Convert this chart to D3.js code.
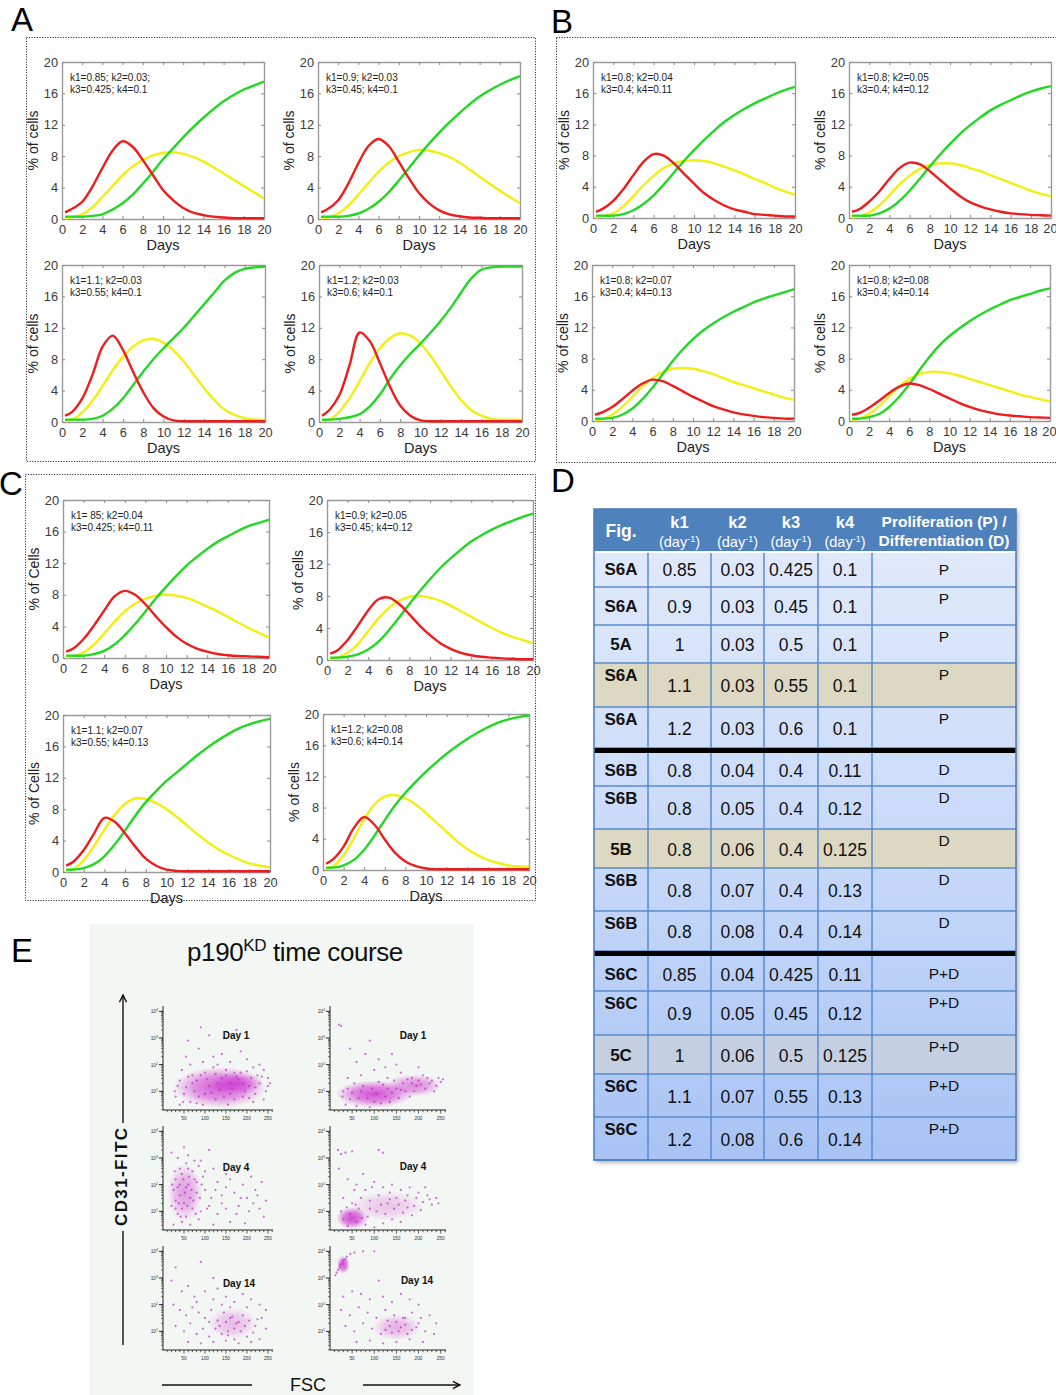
<!DOCTYPE html>
<html>
<head>
<meta charset="utf-8">
<script src="https://cdn.jsdelivr.net/npm/d3@7"></script>
<style>
  body { margin: 0; background: #fff; }
  svg { display: block; }
  text { font-family: Arial, "Liberation Sans", sans-serif; }
</style>
</head>
<body>
<svg id="fig" width="1056" height="1395"></svg>
<script>
// ---- model curves (% of cells) ----
const days = [0.3, 1, 2, 3, 4, 5, 6, 7, 8, 9, 10, 11, 12, 13, 14, 15, 16, 17, 18, 19, 20]

const redA1 = [0.85,1.3,2.2,4.1,6.5,8.7,9.9,9.2,7.5,5.6,3.7,2.4,1.4,0.8,0.5,0.3,0.2,0.1,0.1,0.1,0.1]
const yelA1 = [0.1,0.2,0.6,1.5,2.8,4.2,5.6,6.7,7.5,8.1,8.4,8.5,8.3,7.9,7.3,6.6,5.8,5.0,4.2,3.4,2.6]
const grnA1 = [0.3,0.3,0.3,0.4,0.6,1.2,2.0,3.1,4.5,6.0,7.6,9.0,10.4,11.7,12.9,14.0,15.0,15.8,16.5,17.0,17.5]

const redA2 = [0.85,1.3,2.4,4.5,7.1,9.3,10.2,9.3,7.3,5.2,3.3,2.0,1.1,0.6,0.35,0.2,0.15,0.1,0.1,0.1,0.1]
const yelA2 = [0.1,0.2,0.7,1.7,3.1,4.6,6.0,7.2,8.0,8.5,8.8,8.7,8.4,7.9,7.2,6.3,5.4,4.5,3.6,2.8,2.0]
const grnA2 = [0.3,0.3,0.3,0.4,0.7,1.3,2.2,3.4,4.9,6.5,8.1,9.6,11.0,12.3,13.5,14.6,15.6,16.4,17.1,17.7,18.2]

const redA3 = [0.8,1.3,3.0,6.0,9.6,11.0,9.2,6.4,3.8,1.8,0.7,0.2,0.1,0.1,0.1,0.1,0.1,0.1,0.1,0.1,0.1]
const yelA3 = [0.1,0.3,1.2,2.7,4.6,6.6,8.3,9.6,10.4,10.6,10.1,9.1,7.7,6.0,4.3,2.8,1.6,0.9,0.5,0.3,0.3]
const grnA3 = [0.3,0.3,0.3,0.4,0.8,1.7,3.0,4.7,6.4,8.0,9.4,10.7,12.0,13.5,15.0,16.5,18.0,19.0,19.5,19.7,19.8]

const redA4 = [0.8,1.5,3.4,7.2,11.4,10.3,7.5,4.5,2.1,0.8,0.2,0.1,0.1,0.1,0.1,0.1,0.1,0.1,0.1,0.1,0.1]
const yelA4 = [0.1,0.3,1.3,3.0,5.2,7.5,9.4,10.7,11.3,11.0,10.0,8.4,6.5,4.5,2.8,1.5,0.8,0.4,0.3,0.3,0.3]
const grnA4 = [0.3,0.3,0.4,0.6,1.0,2.0,3.5,5.5,7.2,8.7,10.0,11.4,12.9,14.6,16.5,18.3,19.4,19.7,19.8,19.8,19.8]

const redB1 = [0.8,1.2,2.2,3.7,5.5,7.2,8.2,8.0,7.0,5.7,4.4,3.2,2.3,1.6,1.1,0.8,0.5,0.4,0.3,0.2,0.2]
const yelB1 = [0.1,0.2,0.6,1.5,2.8,4.2,5.4,6.4,7.0,7.3,7.4,7.3,7.0,6.6,6.1,5.6,5.0,4.5,3.9,3.4,3.0]
const grnB1 = [0.3,0.3,0.3,0.5,1.0,1.8,2.9,4.3,5.8,7.3,8.7,10.0,11.2,12.3,13.2,14.0,14.7,15.3,15.9,16.4,16.8]

const redB2 = [0.8,1.1,2.1,3.4,5.0,6.4,7.1,6.9,6.0,4.9,3.8,2.8,2.0,1.5,1.1,0.8,0.6,0.5,0.4,0.35,0.3]
const yelB2 = [0.1,0.2,0.7,1.6,2.9,4.3,5.4,6.3,6.8,7.0,7.0,6.8,6.4,6.0,5.5,5.0,4.5,4.0,3.5,3.1,2.8]
const grnB2 = [0.3,0.3,0.3,0.6,1.2,2.2,3.5,5.0,6.6,8.1,9.5,10.8,11.9,12.9,13.8,14.5,15.1,15.7,16.2,16.6,16.9]

const redB3 = [0.8,1.1,1.8,2.8,3.9,4.8,5.3,5.1,4.5,3.8,3.1,2.5,1.9,1.5,1.1,0.85,0.65,0.5,0.4,0.3,0.3]
const yelB3 = [0.1,0.2,0.8,1.8,3.1,4.4,5.5,6.3,6.7,6.8,6.7,6.4,6.0,5.5,5.0,4.6,4.2,3.8,3.4,3.0,2.7]
const grnB3 = [0.3,0.3,0.4,0.8,1.6,2.8,4.3,6.0,7.7,9.2,10.5,11.6,12.5,13.3,14.0,14.6,15.2,15.7,16.1,16.5,16.9]

const redB4 = [0.8,1.0,1.7,2.6,3.6,4.4,4.8,4.6,4.1,3.5,2.9,2.3,1.8,1.4,1.1,0.85,0.7,0.6,0.5,0.45,0.4]
const yelB4 = [0.1,0.3,0.9,1.9,3.2,4.4,5.4,6.0,6.3,6.3,6.1,5.8,5.4,5.0,4.6,4.2,3.8,3.4,3.1,2.8,2.5]
const grnB4 = [0.3,0.3,0.5,0.9,1.8,3.1,4.7,6.5,8.2,9.7,10.9,11.9,12.8,13.6,14.3,14.9,15.5,15.9,16.3,16.7,17.0]

const redC1 = [0.8,1.2,2.4,4.1,6.0,7.8,8.5,8.0,6.8,5.3,3.9,2.7,1.8,1.2,0.8,0.5,0.35,0.25,0.2,0.15,0.1]
const yelC1 = [0.1,0.2,0.7,1.7,3.1,4.6,5.9,6.9,7.5,7.9,8.0,7.9,7.6,7.1,6.5,5.9,5.2,4.5,3.8,3.2,2.6]
const grnC1 = [0.3,0.3,0.3,0.5,0.9,1.7,2.9,4.3,5.9,7.5,9.0,10.4,11.7,12.8,13.8,14.7,15.4,16.1,16.7,17.1,17.5]

const redC2 = [0.8,1.2,2.5,4.3,6.2,7.6,7.8,7.0,5.7,4.3,3.1,2.1,1.4,0.9,0.6,0.4,0.3,0.2,0.15,0.1,0.1]
const yelC2 = [0.1,0.3,0.9,2.0,3.6,5.2,6.5,7.4,7.9,8.0,7.8,7.4,6.8,6.1,5.4,4.7,4.0,3.4,2.9,2.5,2.1]
const grnC2 = [0.3,0.3,0.4,0.7,1.3,2.3,3.7,5.3,7.0,8.6,10.1,11.5,12.7,13.8,14.8,15.6,16.3,16.9,17.4,17.9,18.3]

const redC3 = [0.8,1.3,2.8,4.9,6.9,6.4,4.9,3.2,1.7,0.8,0.3,0.15,0.1,0.1,0.1,0.1,0.1,0.1,0.1,0.1,0.1]
const yelC3 = [0.1,0.4,1.5,3.3,5.4,7.3,8.7,9.4,9.3,8.8,8.0,7.0,5.9,4.8,3.8,2.9,2.2,1.6,1.1,0.8,0.6]
const grnC3 = [0.3,0.3,0.5,1.0,2.0,3.5,5.3,7.2,8.9,10.3,11.6,12.7,13.8,14.9,15.9,16.8,17.6,18.3,18.8,19.2,19.5]

const redC4 = [0.8,1.4,3.0,5.4,6.8,5.8,3.9,2.2,1.1,0.5,0.2,0.1,0.1,0.1,0.1,0.1,0.1,0.1,0.1,0.1,0.1]
const yelC4 = [0.1,0.5,1.9,4.1,6.5,8.4,9.4,9.6,9.2,8.4,7.3,6.1,4.9,3.7,2.7,1.9,1.3,0.9,0.6,0.45,0.4]
const grnC4 = [0.3,0.3,0.6,1.3,2.6,4.4,6.4,8.3,9.9,11.3,12.6,13.8,14.9,15.9,16.8,17.6,18.3,18.9,19.3,19.6,19.8]

const xTicks = [0, 2, 4, 6, 8, 10, 12, 14, 16, 18, 20]
const yTicks = [0, 4, 8, 12, 16, 20]

const plotNotes = {
  A1: ['k1=0.85; k2=0.03;', 'k3=0.425; k4=0.1'],
  A2: ['k1=0.9; k2=0.03', 'k3=0.45; k4=0.1'],
  A3: ['k1=1.1; k2=0.03', 'k3=0.55; k4=0.1'],
  A4: ['k1=1.2; k2=0.03', 'k3=0.6; k4=0.1'],
  B1: ['k1=0.8; k2=0.04', 'k3=0.4; k4=0.11'],
  B2: ['k1=0.8; k2=0.05', 'k3=0.4; k4=0.12'],
  B3: ['k1=0.8; k2=0.07', 'k3=0.4; k4=0.13'],
  B4: ['k1=0.8; k2=0.08', 'k3=0.4; k4=0.14'],
  C1: ['k1= 85; k2=0.04', 'k3=0.425; k4=0.11'],
  C2: ['k1=0.9; k2=0.05', 'k3=0.45; k4=0.12'],
  C3: ['k1=1.1; k2=0.07', 'k3=0.55; k4=0.13'],
  C4: ['k1=1.2; k2=0.08', 'k3=0.6; k4=0.14']
}

// ---- table D ----
const figCol = ['S6A','S6A','5A','S6A','S6A','S6B','S6B','5B','S6B','S6B','S6C','S6C','5C','S6C','S6C']
const k1Col = ['0.85','0.9','1','1.1','1.2','0.8','0.8','0.8','0.8','0.8','0.85','0.9','1','1.1','1.2']
const k2Col = ['0.03','0.03','0.03','0.03','0.03','0.04','0.05','0.06','0.07','0.08','0.04','0.05','0.06','0.07','0.08']
const k3Col = ['0.425','0.45','0.5','0.55','0.6','0.4','0.4','0.4','0.4','0.4','0.425','0.45','0.5','0.55','0.6']
const k4Col = ['0.1','0.1','0.1','0.1','0.1','0.11','0.12','0.125','0.13','0.14','0.11','0.12','0.125','0.13','0.14']
const pdCol = ['P','P','P','P','P','D','D','D','D','D','P+D','P+D','P+D','P+D','P+D']
const headers = ['Fig.', 'k1', 'k2', 'k3', 'k4', 'Proliferation (P) /', 'Differentiation (D)']

// ---- panel E: flow cytometry events [FSC, log10 CD31-FITC] ----
const facsDays = ['Day 1', 'Day 1', 'Day 4', 'Day 4', 'Day 14', 'Day 14']
const fscTicks = [50, 100, 150, 200, 250]
const fitcDecades = [1, 2, 3, 4]

const ev1L = [[60,2.9],[85,2.6],[110,3.1],[140,2.4],[175,3.3],[200,2.2],[230,2.0],[55,2.3],[95,2.1],[130,2.0],[160,2.1],[185,2.5],[215,1.9],[240,1.8],[250,1.5],[45,1.8],[70,1.6],[100,1.7],[120,1.9],[150,1.8],[170,1.7],[200,1.75],[225,1.6],[35,1.2],[50,0.9],[65,0.6],[80,1.4],[95,0.5],[110,1.2],[125,0.7],[140,1.5],[155,0.5],[165,1.1],[180,1.45],[190,0.8],[205,1.2],[215,0.6],[230,1.3],[245,1.0],[40,0.5],[30,0.8],[75,1.0],[100,0.9],[135,1.05],[160,1.3],[195,1.0],[220,0.9],[250,1.2],[120,2.3],[90,3.4],[145,3.0],[65,2.0],
  [40,1.4],[55,1.15],[70,1.3],[85,0.8],[105,1.45],[115,0.95],[130,1.3],[145,0.8],[150,1.6],[170,0.7],[175,1.55],[190,1.3],[210,1.5],[220,1.15],[235,1.55],[255,1.3],[60,1.55],[90,1.6],[125,1.65],[185,1.7],[240,0.7],[28,1.0],[48,0.6],[80,0.55],[205,0.75],[160,0.9]]
const ev1R = [[20,3.5],[25,3.45],[45,2.6],[90,2.9],[140,2.4],[170,3.0],[60,2.1],[110,2.2],[150,2.0],[200,1.9],[40,1.5],[70,1.6],[100,1.8],[130,1.5],[160,1.7],[185,1.5],[210,1.6],[230,1.4],[250,1.35],[30,1.0],[45,0.7],[60,0.45],[75,1.2],[90,0.4],[105,0.9],[120,1.25],[135,0.6],[150,1.1],[165,1.3],[180,0.8],[195,1.2],[215,1.1],[235,1.0],[245,1.5],[35,0.5],[55,1.3],[85,0.75],[115,0.55],[140,0.95],[170,1.0],[200,1.4],[225,1.3],[125,1.9],[80,2.4],
  [28,0.8],[40,1.1],[50,0.95],[65,0.75],[70,1.0],[95,1.1],[110,1.35],[125,0.8],[145,1.4],[155,0.75],[175,1.45],[190,1.0],[205,1.25],[220,1.5],[240,1.2],[255,1.45],[100,0.6],[130,1.1],[160,1.05],[185,1.3]]
const ev4L = [[20,3.2],[35,3.0],[60,3.1],[90,2.9],[110,3.3],[40,2.6],[55,2.8],[70,2.5],[85,2.7],[120,2.6],[150,2.4],[30,2.2],[45,2.4],[60,2.0],[75,2.2],[95,2.3],[130,2.1],[160,2.2],[190,2.0],[210,2.3],[235,2.1],[25,1.8],[40,1.6],[55,1.9],[65,1.5],[80,1.7],[100,1.8],[115,1.5],[140,1.6],[170,1.7],[200,1.5],[225,1.6],[245,1.4],[20,1.2],[35,0.9],[50,1.3],[70,1.1],[90,1.0],[110,1.2],[130,0.9],[150,1.1],[180,1.2],[205,1.0],[230,1.1],[25,0.5],[45,0.6],[65,0.5],[85,0.7],[120,0.5],[160,0.6],[195,0.55],[40,2.0],[30,1.4],[60,2.6],[80,2.1],[100,2.5],[45,1.1],[140,1.3],[175,0.9],[215,1.3],[240,0.8],[50,3.4],
  [28,2.5],[35,1.9],[48,2.2],[52,1.7],[58,1.2],[62,2.3],[68,1.8],[72,1.4],[78,0.9],[88,1.5],[92,2.0],[105,1.1],[30,1.1],[38,1.3],[42,0.8],[55,0.8],[22,2.0],[75,2.9],[125,1.8],[150,1.9],[185,1.5],[220,1.8]]
const ev4R = [[18,3.3],[25,3.15],[35,3.2],[50,3.25],[110,3.3],[120,3.2],[20,2.6],[40,2.2],[60,2.0],[80,1.8],[100,2.1],[120,1.9],[140,2.0],[160,1.8],[180,1.9],[200,1.7],[220,1.6],[240,1.5],[30,1.5],[50,1.3],[70,1.5],[90,1.4],[110,1.6],[130,1.3],[150,1.5],[170,1.4],[190,1.2],[210,1.35],[230,1.25],[25,1.0],[45,0.9],[65,1.1],[85,0.8],[105,1.0],[125,0.9],[145,1.1],[165,0.95],[185,0.85],[205,1.05],[40,0.45],[60,0.6],[80,0.5],[100,0.4],[120,0.55],[140,0.7],[160,0.6],[95,1.9],[135,1.7],[55,1.8],[75,2.4],[175,1.6],[215,1.9],
  [30,0.7],[38,1.15],[58,1.25],[72,0.75],[90,1.1],[115,1.25],[135,1.45],[155,1.25],[175,1.15],[195,1.5],[225,1.45],[245,1.3]]
const ev14L = [[30,3.4],[90,3.6],[120,3.0],[20,2.9],[45,2.5],[60,2.7],[75,2.3],[100,2.5],[130,2.6],[150,2.3],[170,2.1],[190,2.4],[210,2.2],[230,2.0],[245,1.8],[25,2.0],[40,1.8],[55,1.6],[70,1.9],[85,1.7],[100,1.5],[115,1.8],[130,1.4],[145,1.7],[160,1.5],[175,1.3],[190,1.6],[205,1.4],[220,1.2],[235,1.5],[30,1.2],[50,1.0],[65,1.3],[80,0.9],[95,1.1],[110,0.8],[125,1.1],[140,0.9],[155,1.0],[170,0.7],[185,1.0],[200,0.8],[215,0.95],[230,0.7],[245,1.1],[60,0.6],[90,0.55],[120,0.6],[150,0.65],[180,0.55],[210,0.6],[140,2.0],[160,1.9],[120,2.2],[80,2.1],[200,1.9],[170,1.1],
  [135,1.2],[150,1.35],[165,1.55],[180,1.35],[195,1.2],[155,0.85],[110,1.35],[225,1.45]]
const ev14R = [[12,3.1],[18,3.3],[24,3.5],[30,3.65],[38,3.8],[46,3.9],[55,3.95],[75,4.0],[100,4.0],[15,3.2],[22,3.4],[28,3.55],[35,3.7],[110,2.9],[30,2.3],[50,2.5],[70,2.4],[90,2.2],[120,2.3],[140,2.1],[160,2.4],[180,2.2],[200,2.0],[25,1.8],[45,1.6],[65,1.9],[85,1.7],[105,1.5],[125,1.8],[145,1.6],[165,1.5],[185,1.7],[205,1.5],[225,1.6],[240,1.3],[35,1.2],[55,1.0],[75,1.3],[95,1.1],[115,0.9],[135,1.2],[155,1.0],[175,0.9],[195,1.15],[215,1.0],[235,0.9],[60,0.6],[90,0.65],[120,0.55],[150,0.6],[180,0.7],[210,0.6],[130,1.4],[170,1.25],[150,1.35],
  [140,0.95],[160,1.15],[185,1.05],[200,1.3],[125,1.05],[170,1.5]]
// dense regions: [FSC centre, log centre, FSC spread, log spread, density]
const core1L = [[135,1.15,112,0.78,0.75],[175,1.3,65,0.42,0.55]]
const core1R = [[100,0.9,88,0.52,0.8],[190,1.22,62,0.42,0.55]]
const core4L = [[52,1.7,42,1.1,0.45]]
const core4R = [[50,0.75,36,0.42,0.85],[130,1.2,85,0.55,0.25]]
const core14L = [[165,1.3,60,0.6,0.3]]
const core14R = [[150,1.15,55,0.5,0.35],[30,3.5,15,0.35,0.8]]

// ================= drawing =================
const svg = d3.select('#fig')
const COL = { red: '#ee1c1c', yellow: '#f2ee10', green: '#22d822' }

// plot frames [left, right, top, bottom]
const frames = {
  A1: [62, 264, 62, 219], A2: [318, 520, 62, 219],
  A3: [62, 265, 265, 422], A4: [319, 522, 265, 422],
  B1: [593, 795, 62, 218], B2: [849, 1051, 62, 218],
  B3: [592, 794, 265, 421], B4: [849, 1050, 265, 421],
  C1: [63, 269, 500, 658], C2: [327, 533, 500, 660],
  C3: [63, 270, 715, 872], C4: [323, 529, 714, 870]
}
const series = {
  A1: [redA1, yelA1, grnA1], A2: [redA2, yelA2, grnA2], A3: [redA3, yelA3, grnA3], A4: [redA4, yelA4, grnA4],
  B1: [redB1, yelB1, grnB1], B2: [redB2, yelB2, grnB2], B3: [redB3, yelB3, grnB3], B4: [redB4, yelB4, grnB4],
  C1: [redC1, yelC1, grnC1], C2: [redC2, yelC2, grnC2], C3: [redC3, yelC3, grnC3], C4: [redC4, yelC4, grnC4]
}
const yLabels = { C1: '% of Cells', C3: '% of Cells' }

// dotted panel boxes
const boxes = [[26, 37, 535, 461], [556, 37, 1060, 462], [25, 474, 535, 900]]
boxes.forEach(b => {
  svg.append('rect')
    .attr('x', b[0] + 0.5).attr('y', b[1] + 0.5)
    .attr('width', b[2] - b[0]).attr('height', b[3] - b[1])
    .attr('fill', 'none').attr('stroke', '#111')
    .attr('stroke-width', 1).attr('stroke-dasharray', '1,1.6')
})

// panel letters
const letters = [['A', 11, 31], ['B', 551, 33], ['C', -1, 495], ['D', 551, 492], ['E', 11, 962]]
letters.forEach(l => {
  svg.append('text').attr('x', l[1]).attr('y', l[2])
    .attr('font-size', 33).attr('fill', '#000').text(l[0])
})

function drawCurvePlot(id) {
  const [x0, x1, y0, y1] = frames[id]
  const g = svg.append('g').attr('class', 'plot-' + id)
  const x = d3.scaleLinear().domain([0, 20]).range([x0, x1])
  const y = d3.scaleLinear().domain([0, 20]).range([y1, y0])

  g.append('rect').attr('x', x0).attr('y', y0)
    .attr('width', x1 - x0).attr('height', y1 - y0).attr('fill', '#fff')

  const styleAxis = sel => {
    sel.select('.domain').attr('stroke', '#9a9a9a').attr('stroke-width', 1.4)
    sel.selectAll('.tick line').attr('stroke', '#8a8a8a').attr('stroke-width', 1)
    sel.selectAll('text').attr('font-size', 12.8).attr('fill', '#3a3a3a')
      .attr('font-family', 'Arial, "Liberation Sans", sans-serif')
  }
  const bottom = g.append('g').attr('transform', `translate(0,${y1})`)
    .call(d3.axisBottom(x).tickValues(xTicks).tickSize(-3).tickSizeOuter(0).tickPadding(6))
    .call(styleAxis)
  // keep the last label inside the page when the plot touches the right edge
  if (x1 > 1040) {
    bottom.selectAll('.tick text').filter(d => d === 20)
      .attr('text-anchor', 'end').attr('dx', 6)
  }
  g.append('g').attr('transform', `translate(0,${y0})`)
    .call(d3.axisTop(x).tickValues(xTicks).tickSize(-3).tickSizeOuter(0).tickFormat(''))
    .call(styleAxis)
  g.append('g').attr('transform', `translate(${x0},0)`)
    .call(d3.axisLeft(y).tickValues(yTicks).tickSize(-3).tickSizeOuter(0).tickPadding(4))
    .call(styleAxis)
  g.append('g').attr('transform', `translate(${x1},0)`)
    .call(d3.axisRight(y).tickValues(yTicks).tickSize(-3).tickSizeOuter(0).tickFormat(''))
    .call(styleAxis)

  const line = d3.line()
    .x((d, i) => x(days[i]))
    .y(d => y(d))
    .curve(d3.curveCatmullRom.alpha(0.5))
  const [r, yl, gr] = series[id]
  ;[[yl, COL.yellow], [gr, COL.green], [r, COL.red]].forEach(([vals, c]) => {
    g.append('path').datum(vals).attr('d', line)
      .attr('fill', 'none').attr('stroke', c)
      .attr('stroke-width', 2.4).attr('stroke-linejoin', 'round')
  })

  const note = plotNotes[id]
  note.forEach((t, i) => {
    g.append('text').attr('x', x0 + 8).attr('y', y0 + 19 + i * 11.5)
      .attr('font-size', 10).attr('fill', '#222').text(t)
  })

  g.append('text').attr('x', (x0 + x1) / 2).attr('y', y1 + 31)
    .attr('text-anchor', 'middle').attr('font-size', 14.5).attr('fill', '#222').text('Days')
  const cy = (y0 + y1) / 2
  g.append('text')
    .attr('transform', `translate(${x0 - 24},${cy}) rotate(-90)`)
    .attr('text-anchor', 'middle').attr('font-size', 14).attr('fill', '#222')
    .text(yLabels[id] || '% of cells')
}
Object.keys(frames).forEach(drawCurvePlot)

// ---------------- table D ----------------
const colX = [594, 648, 711, 764, 818, 872, 1016]
const headTop = 509, headBot = 551
const rowH = [36, 38, 38, 44, 41, 33, 43, 39, 43, 40, 35, 44, 39, 43, 43]
const groupSize = 5, barH = 5
const rowTint = { 3: '#dcd8c2', 7: '#dcd8c2', 12: '#c4cfe1' }

const rowTops = []
{
  let yy = headBot
  rowH.forEach((h, i) => {
    if (i > 0 && i % groupSize === 0) yy += barH
    rowTops.push(yy)
    yy += h
  })
}
const tableBot = rowTops[rowTops.length - 1] + rowH[rowH.length - 1]

const defs = svg.append('defs')
const grad = defs.append('linearGradient').attr('id', 'tblGrad')
  .attr('x1', 0).attr('y1', 0).attr('x2', 0).attr('y2', 1)
grad.append('stop').attr('offset', '0%').attr('stop-color', '#e0e9fa')
grad.append('stop').attr('offset', '50%').attr('stop-color', '#c7d9f9')
grad.append('stop').attr('offset', '100%').attr('stop-color', '#a8c3f4')
const shadow = defs.append('filter').attr('id', 'shadow')
  .attr('x', '-5%').attr('y', '-5%').attr('width', '110%').attr('height', '110%')
shadow.append('feDropShadow').attr('dx', 2).attr('dy', 2.5)
  .attr('stdDeviation', 2).attr('flood-color', '#000').attr('flood-opacity', 0.35)

const tbl = svg.append('g').attr('class', 'table')
tbl.append('rect').attr('x', colX[0]).attr('y', headTop)
  .attr('width', colX[6] - colX[0]).attr('height', tableBot - headTop)
  .attr('fill', '#fff').attr('filter', 'url(#shadow)')
tbl.append('rect').attr('x', colX[0]).attr('y', headTop)
  .attr('width', colX[6] - colX[0]).attr('height', headBot - headTop)
  .attr('fill', '#4f81bd')
tbl.append('rect').attr('x', colX[0]).attr('y', headBot + 2)
  .attr('width', colX[6] - colX[0]).attr('height', tableBot - headBot - 2)
  .attr('fill', 'url(#tblGrad)')

rowTops.forEach((t, i) => {
  if (rowTint[i]) {
    tbl.append('rect').attr('x', colX[0]).attr('y', t)
      .attr('width', colX[6] - colX[0]).attr('height', rowH[i]).attr('fill', rowTint[i])
  }
})

const gridC = '#5a8bcf'
rowTops.forEach((t, i) => {
  tbl.append('line').attr('x1', colX[0]).attr('x2', colX[6])
    .attr('y1', t + rowH[i]).attr('y2', t + rowH[i])
    .attr('stroke', gridC).attr('stroke-width', 1.5)
})
colX.slice(1, 6).forEach(cx => {
  tbl.append('line').attr('x1', cx).attr('x2', cx)
    .attr('y1', headBot + 2).attr('y2', tableBot)
    .attr('stroke', gridC).attr('stroke-width', 1.5)
})
rowTops.forEach((t, i) => {
  if (i > 0 && i % groupSize === 0) {
    tbl.append('rect').attr('x', colX[0]).attr('y', t - barH)
      .attr('width', colX[6] - colX[0]).attr('height', barH).attr('fill', '#000')
  }
})
tbl.append('rect').attr('x', colX[0]).attr('y', headTop)
  .attr('width', colX[6] - colX[0]).attr('height', tableBot - headTop)
  .attr('fill', 'none').attr('stroke', '#4a7ebb').attr('stroke-width', 1.5)

const colMid = i => (colX[i] + colX[i + 1]) / 2
tbl.append('text').attr('x', colMid(0)).attr('y', 537).attr('text-anchor', 'middle')
  .attr('font-size', 17.5).attr('font-weight', 'bold').attr('fill', '#fff').text(headers[0])
for (let i = 1; i <= 4; i++) {
  tbl.append('text').attr('x', colMid(i)).attr('y', 528).attr('text-anchor', 'middle')
    .attr('font-size', 16.5).attr('font-weight', 'bold').attr('fill', '#fff').text(headers[i])
  const t = tbl.append('text').attr('x', colMid(i)).attr('y', 547).attr('text-anchor', 'middle')
    .attr('font-size', 14.5).attr('fill', '#fff')
  t.append('tspan').text('(day')
  t.append('tspan').attr('dy', -5).attr('font-size', 9).text('-1')
  t.append('tspan').attr('dy', 5).text(')')
}
tbl.append('text').attr('x', colMid(5)).attr('y', 527).attr('text-anchor', 'middle')
  .attr('font-size', 15.5).attr('font-weight', 'bold').attr('fill', '#fff').text(headers[5])
tbl.append('text').attr('x', colMid(5)).attr('y', 546).attr('text-anchor', 'middle')
  .attr('font-size', 15.5).attr('font-weight', 'bold').attr('fill', '#fff').text(headers[6])

rowTops.forEach((t, i) => {
  const h = rowH[i]
  const mid = t + h / 2
  const first = i % groupSize === 0
  const figY = h >= 40 ? t + 12 : mid
  const valY = mid + 1
  const pdY = first ? mid : t + 11
  tbl.append('text').attr('x', colMid(0)).attr('y', figY).attr('dy', '0.36em')
    .attr('text-anchor', 'middle').attr('font-size', 17).attr('font-weight', 'bold')
    .attr('fill', '#111').text(figCol[i])
  ;[k1Col, k2Col, k3Col, k4Col].forEach((col, c) => {
    tbl.append('text').attr('x', colMid(c + 1)).attr('y', valY).attr('dy', '0.36em')
      .attr('text-anchor', 'middle').attr('font-size', 17.5).attr('fill', '#111').text(col[i])
  })
  tbl.append('text').attr('x', colMid(5)).attr('y', pdY).attr('dy', '0.36em')
    .attr('text-anchor', 'middle').attr('font-size', 15.5).attr('fill', '#111').text(pdCol[i])
})

// ---------------- panel E ----------------
const eG = svg.append('g').attr('class', 'panel-e')
eG.append('rect').attr('x', 90).attr('y', 924).attr('width', 384).attr('height', 471).attr('fill', '#f3f7f3')

const title = eG.append('text').attr('x', 295).attr('y', 961).attr('text-anchor', 'middle')
  .attr('font-size', 26).attr('fill', '#111').attr('letter-spacing', -0.4)
title.append('tspan').text('p190')
title.append('tspan').attr('dy', -10).attr('font-size', 17).text('KD')
title.append('tspan').attr('dy', 10).text(' time course')

const arrowDef = defs.append('marker').attr('id', 'arrowhead')
  .attr('viewBox', '0 0 10 10').attr('refX', 9).attr('refY', 5)
  .attr('markerWidth', 9).attr('markerHeight', 9).attr('orient', 'auto-start-reverse')
  .attr('markerUnits', 'userSpaceOnUse')
arrowDef.append('path').attr('d', 'M1,1 L9,5 L1,9').attr('fill', 'none').attr('stroke', '#111').attr('stroke-width', 1.6)

eG.append('line').attr('x1', 123).attr('x2', 123).attr('y1', 1123).attr('y2', 995)
  .attr('stroke', '#111').attr('stroke-width', 1.4).attr('marker-end', 'url(#arrowhead)')
eG.append('line').attr('x1', 123).attr('x2', 123).attr('y1', 1231).attr('y2', 1345)
  .attr('stroke', '#111').attr('stroke-width', 1.4)
eG.append('text').attr('transform', 'translate(127,1177) rotate(-90)')
  .attr('text-anchor', 'middle').attr('font-size', 17).attr('font-weight', 'bold')
  .attr('fill', '#111').attr('textLength', 98).text('CD31-FITC')

eG.append('line').attr('x1', 162).attr('x2', 252).attr('y1', 1385).attr('y2', 1385)
  .attr('stroke', '#111').attr('stroke-width', 1.4)
eG.append('line').attr('x1', 363).attr('x2', 460).attr('y1', 1385).attr('y2', 1385)
  .attr('stroke', '#111').attr('stroke-width', 1.4).attr('marker-end', 'url(#arrowhead)')
eG.append('text').attr('x', 308).attr('y', 1391).attr('text-anchor', 'middle')
  .attr('font-size', 18).attr('fill', '#111').text('FSC')

const coreGrad = defs.append('radialGradient').attr('id', 'coreGrad')
coreGrad.append('stop').attr('offset', '0%').attr('stop-color', '#c40fc8').attr('stop-opacity', 0.9)
coreGrad.append('stop').attr('offset', '55%').attr('stop-color', '#c818cc').attr('stop-opacity', 0.6)
coreGrad.append('stop').attr('offset', '100%').attr('stop-color', '#d040d0').attr('stop-opacity', 0)

const facsFrames = [
  { x0: 163, x1: 273, base: 1110, lx: 236, ly: 1035 },
  { x0: 330, x1: 446, base: 1110, lx: 413, ly: 1035 },
  { x0: 163, x1: 273, base: 1230, lx: 236, ly: 1167 },
  { x0: 330, x1: 446, base: 1230, lx: 413, ly: 1166 },
  { x0: 163, x1: 273, base: 1350, lx: 239, ly: 1283 },
  { x0: 330, x1: 446, base: 1350, lx: 417, ly: 1280 }
]
const facsEvents = [ev1L, ev1R, ev4L, ev4R, ev14L, ev14R]
const facsCores = [core1L, core1R, core4L, core4R, core14L, core14R]

facsFrames.forEach((f, k) => {
  const g = eG.append('g')
  const x = d3.scaleLinear().domain([0, 262]).range([f.x0, f.x1])
  const y = d3.scaleLinear().domain([0.3, 4.2]).range([f.base, f.base - 104])

  facsCores[k].forEach(c => {
    g.append('ellipse').attr('cx', x(c[0])).attr('cy', y(c[1]))
      .attr('rx', x(c[2]) - x(0)).attr('ry', y(0.3) - y(0.3 + c[3]))
      .attr('fill', 'url(#coreGrad)').attr('opacity', c[4])
  })
  g.selectAll('circle.ev').data(facsEvents[k]).join('circle')
    .attr('class', 'ev')
    .attr('cx', d => x(d[0])).attr('cy', d => y(d[1])).attr('r', 1.15)
    .attr('fill', '#b81ec0').attr('opacity', 0.6)

  g.append('line').attr('x1', f.x0).attr('x2', f.x1).attr('y1', f.base).attr('y2', f.base)
    .attr('stroke', '#222').attr('stroke-width', 1)
  g.append('line').attr('x1', f.x0).attr('x2', f.x0).attr('y1', f.base).attr('y2', f.base - 104)
    .attr('stroke', '#222').attr('stroke-width', 1)
  d3.range(10, 262, 10).forEach(v => {
    const major = v % 50 === 0
    g.append('line').attr('x1', x(v)).attr('x2', x(v))
      .attr('y1', f.base).attr('y2', f.base + (major ? 3.5 : 2.2))
      .attr('stroke', '#333').attr('stroke-width', 0.8)
  })
  fscTicks.forEach(v => {
    g.append('text').attr('x', x(v)).attr('y', f.base + 10).attr('text-anchor', 'middle')
      .attr('font-size', 4.8).attr('fill', '#333').text(v)
  })
  ;[0, 1, 2, 3, 4].forEach(dec => {
    for (let m = 2; m <= 9; m++) {
      const lv = dec + Math.log10(m)
      if (lv < 0.3 || lv > 4.2) continue
      g.append('line').attr('x1', f.x0 - 2).attr('x2', f.x0).attr('y1', y(lv)).attr('y2', y(lv))
        .attr('stroke', '#333').attr('stroke-width', 0.7)
    }
  })
  fitcDecades.forEach(dec => {
    g.append('line').attr('x1', f.x0 - 4).attr('x2', f.x0).attr('y1', y(dec)).attr('y2', y(dec))
      .attr('stroke', '#222').attr('stroke-width', 1)
    const t = g.append('text').attr('x', f.x0 - 5).attr('y', y(dec) + 2).attr('text-anchor', 'end')
      .attr('font-size', 4.8).attr('fill', '#333')
    t.append('tspan').text('10')
    t.append('tspan').attr('dy', -2).attr('font-size', 3.6).text(dec)
  })

  g.append('text').attr('x', f.lx).attr('y', f.ly).attr('dy', '0.36em').attr('text-anchor', 'middle')
    .attr('font-size', 10).attr('font-weight', 'bold').attr('fill', '#111').text(facsDays[k])
})
</script>
</body>
</html>
